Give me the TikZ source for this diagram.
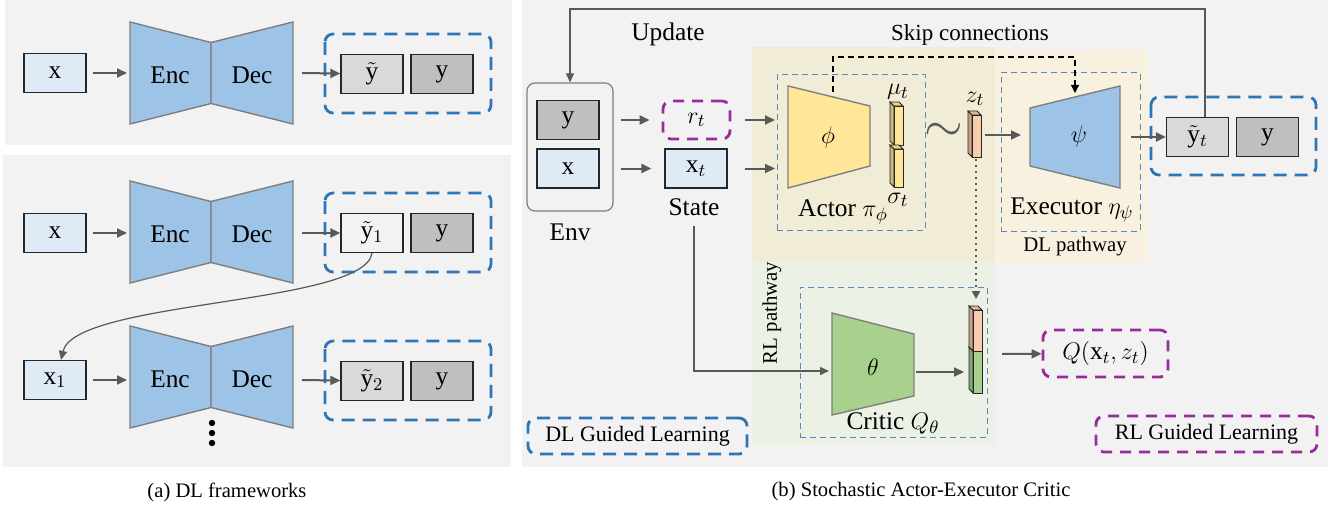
\documentclass[tikz,border=0pt]{standalone}
\usepackage{fontspec}
\setmainfont{Liberation Serif}
\setmathrm{Liberation Serif}
\usetikzlibrary{positioning,arrows.meta}

\definecolor{panel}{HTML}{F2F2F2}
\definecolor{actorbg}{HTML}{F1ECD6}
\definecolor{execbg}{HTML}{F9F1DF}
\definecolor{criticbg}{HTML}{EBF1E5}
\definecolor{inblue}{HTML}{DEEBF7}
\definecolor{encblue}{HTML}{9DC3E6}
\definecolor{actoryellow}{HTML}{FFE699}
\definecolor{critgreen}{HTML}{A9D18E}
\definecolor{zsalmon}{HTML}{F8CBAD}
\definecolor{gtgray}{HTML}{BFBFBF}
\definecolor{predgray}{HTML}{D9D9D9}
\definecolor{dlblue}{HTML}{2E75B6}
\definecolor{netblue}{HTML}{5A8AC0}
\definecolor{rlpurple}{HTML}{982C9A}
\definecolor{arrowgray}{HTML}{595959}
\definecolor{edgegray}{HTML}{7F7F7F}

\tikzset{
  lbl/.style={font=\rmfamily\fontsize{12.7}{14}\selectfont, inner sep=0pt},
  smalllbl/.style={font=\rmfamily\fontsize{10.4}{12}\selectfont, inner sep=0pt},
  inbox/.style={lbl, draw=black!85, line width=0.6pt, fill=inblue, minimum width=31pt, minimum height=19.5pt},
  gtbox/.style={inbox, fill=gtgray},
  predbox/.style={inbox, fill=predgray},
  dlgroup/.style={draw=dlblue, line width=1.4pt, dash pattern=on 6.5pt off 4pt, rounded corners=4pt},
  rlgroup/.style={draw=rlpurple, line width=1.4pt, dash pattern=on 5.5pt off 4pt, rounded corners=4pt},
  netbox/.style={draw=netblue, line width=0.5pt, dash pattern=on 3pt off 2pt},
  encnet/.style={fill=encblue, draw=edgegray, line width=0.7pt},
  flow/.style={draw=arrowgray, line width=1pt, -{Triangle[length=5pt,width=4.5pt]}},
  thinflow/.style={draw=arrowgray, line width=0.7pt, -{Triangle[length=4.5pt,width=4pt]}},
}

\newcommand{\featbar}[4]{%
  \filldraw[fill=#4!80!black, draw=black!85, line width=0.4pt] (#1-4,#2-4) -- (#1,#2) -- (#1,#3) -- (#1-4,#3-4) -- cycle;
  \filldraw[fill=#4!90!black, draw=black!85, line width=0.4pt] (#1-4,#2-4) -- (#1+5,#2-4) -- (#1+9,#2) -- (#1,#2) -- cycle;
  \filldraw[fill=#4, draw=black!85, line width=0.4pt] (#1,#2) rectangle (#1+9,#3);
}

\begin{document}
\begin{tikzpicture}[x=0.5pt,y=-0.5pt]
\useasboundingbox (0,0) rectangle (1338,508);

% panel backgrounds
\fill[panel] (5,0) rectangle (512,145);
\fill[panel] (3,155) rectangle (511,467);
\fill[panel] (522,0) rectangle (1328,467);
\fill[actorbg] (752,47) rectangle (995,262);
\fill[execbg] (995,50) rectangle (1148,262);
\fill[criticbg] (752,262) rectangle (995,445);

% (a) encoder-decoder rows
\foreach \n/\yc in {a/73, b/232, c/377} {
  \filldraw[encnet] (130,\yc-51) -- (211,\yc-30.5) -- (211,\yc+30.5) -- (130,\yc+51) -- cycle;
  \filldraw[encnet] (211,\yc-30.5) -- (293,\yc-51) -- (293,\yc+51) -- (211,\yc+30.5) -- cycle;
  \node[lbl] (enc-\n) at (170,\yc+2) {Enc};
  \node[lbl] (dec-\n) at (252,\yc+2) {Dec};
}
\node[inbox] (x-a) at (55,73) {x};
\node[predbox] (yh-a) at (372,74) {$\tilde{\mathrm{y}}$};
\node[gtbox] (y-a) at (442,74) {y};
\draw[dlgroup] (325,34) rectangle (491,113);

\node[inbox] (x-b) at (55,233) {x};
\node[predbox, fill=panel] (yh-b) at (372,233) {$\tilde{\mathrm{y}}_1$};
\node[gtbox] (y-b) at (442,233) {y};
\draw[dlgroup] (325,193) rectangle (491,272);

\node[inbox] (x-c) at (55,380) {$\mathrm{x}_1$};
\node[predbox] (yh-c) at (372,381) {$\tilde{\mathrm{y}}_2$};
\node[gtbox] (y-c) at (442,381) {y};
\draw[dlgroup] (325,341) rectangle (491,420);

\foreach \n/\yr in {a/73, b/233, c/380} {
  \coordinate (in-\n) at (127,\yr);
  \coordinate (out-\n) at (302,\yr);
  \draw[flow, shorten <=3pt] (x-\n) -- (in-\n);
  \draw[flow] (out-\n) -- (yh-\n);
}
\draw[thinflow, line width=0.6pt] (yh-b.south) .. controls (365,305) and (75,300) .. ([xshift=3pt]x-c.north);
\foreach \dy in {423,433,443}
  \fill (212,\dy) circle (1.6pt);

% (b) environment and state
\node[draw=edgegray, line width=0.6pt, rounded corners=4pt, minimum width=43pt, minimum height=64pt] (env) at (570,147) {};
\node[gtbox] (env-y) at (568,120) {y};
\node[inbox] (env-x) at (568,168.5) {x};
\node[lbl] (envlbl) at (570,232) {Env};
\node[lbl, draw=rlpurple, line width=1.4pt, dash pattern=on 5.5pt off 4pt, rounded corners=4pt, minimum width=33.5pt, minimum height=19pt] (rt) at (696.5,120) {$r_t$};
\node[inbox] (xt) at (696,168.5) {$\mathrm{x}_t$};
\node[lbl] (state) at (694,207) {State};
\draw[flow, shorten <=10.5pt, shorten >=6pt] (env-y) -- (rt);
\draw[flow, shorten <=10.5pt, shorten >=6.5pt] (env-x) -- (xt);
\node[lbl] (update) at (668,34) {Update};

% actor
\node[netbox, minimum width=74pt, minimum height=77.5pt] (actor) at (851,152.5) {};
\coordinate (act-r) at (775,120);
\coordinate (act-x) at (775,168.5);
\draw[flow, shorten <=7pt] (rt) -- (act-r);
\draw[flow, shorten <=8.5pt] (xt) -- (act-x);
\filldraw[fill=actoryellow, draw=edgegray, line width=0.7pt] (788,86) -- (870,106) -- (870,166) -- (788,188) -- cycle;
\node[lbl] (phi) at (828,137) {$\phi$};
\featbar{894}{106}{145}{actoryellow}
\featbar{894}{149}{187}{actoryellow}
\node[lbl] (mu) at (898,92) {$\mu_t$};
\node[lbl] (sigma) at (898,200) {$\sigma_t$};
\node[lbl] (actorlbl) at (843,212) {Actor $\pi_\phi$};
\node[text=arrowgray, inner sep=0pt] (tilde) at (944,132) {\fontsize{30}{30}\selectfont$\sim$};
\featbar{972}{115}{157}{zsalmon}
\node[lbl] (zt) at (975,99) {$z_t$};

% executor
\node[netbox, minimum width=69.5pt, minimum height=79pt] (exec) at (1070.5,152) {};
\filldraw[encnet] (1030,108) -- (1120,86) -- (1120,188) -- (1030,166) -- cycle;
\node[lbl] (psi) at (1079,136) {$\psi$};
\node[lbl] (execlbl) at (1072,210) {Executor $\eta_\psi$};
\node[smalllbl] (dlpath) at (1075,247) {DL pathway};
\coordinate (z-out) at (985,135);
\coordinate (psi-in) at (1021,135);
\draw[flow] (z-out) -- (psi-in);
\node[predbox] (yt) at (1197.5,137) {$\tilde{\mathrm{y}}_t$};
\node[gtbox] (y-t) at (1267.5,137) {y};
\draw[dlgroup] (1151,97) rectangle (1316,175);
\coordinate (psi-out) at (1131,137);
\draw[flow] (psi-out) -- (yt);

% update loop and skip connections
\coordinate (upd) at (1205,9);
\draw[thinflow] (yt.north -| upd) -- (upd) -| (env.north);
\coordinate (phi-top) at (833,92);
\coordinate (skip) at (1075,57);
\coordinate (psi-top) at (1075,93);
\draw[black, line width=0.6pt, dash pattern=on 3pt off 2pt, -{Triangle[length=4pt,width=4pt]}] (phi-top) |- (skip) -- (psi-top);
\node[font=\rmfamily\fontsize{11.5}{13}\selectfont, inner sep=0pt] (skiplbl) at (970,35) {Skip connections};

% critic
\node[netbox, minimum width=93.5pt, minimum height=75pt] (critic) at (893.5,362) {};
\filldraw[fill=critgreen, draw=edgegray, line width=0.7pt] (832,313) -- (914,334) -- (914,396) -- (832,415) -- cycle;
\node[lbl] (theta) at (873,367) {$\theta$};
\node[lbl] (criticlbl) at (893,423) {Critic $Q_\theta$};
\featbar{973}{351}{393}{critgreen}
\featbar{973}{310}{351}{zsalmon}
\coordinate (z-bot) at (976,159);
\coordinate (crit-top) at (976,299);
\draw[arrowgray, line width=1pt, dotted, -{Triangle[length=4pt,width=4pt]}] (z-bot) -- (crit-top);
\coordinate (theta-out) at (916,372);
\coordinate (cbar-in) at (964,372);
\draw[flow] (theta-out) -- (cbar-in);
\coordinate (theta-in) at (829,371);
\draw[thinflow] ([yshift=-5pt]state.south) |- (theta-in);
\node[smalllbl, rotate=90] (rlpath) at (772,313) {RL pathway};
\node[lbl, draw=rlpurple, line width=1.4pt, dash pattern=on 5.5pt off 4pt, rounded corners=4pt, minimum width=62.5pt, minimum height=23.5pt] (q) at (1105.5,353.5) {$Q(\mathrm{x}_t,z_t)$};
\coordinate (cbar-out) at (1002,354);
\draw[flow] (cbar-out) -- (q);

% legends and captions
\node[font=\rmfamily\fontsize{11}{13}\selectfont, draw=dlblue, line width=1.4pt, dash pattern=on 6.5pt off 4pt, rounded corners=4pt, minimum width=109.5pt, minimum height=18pt, inner sep=0pt] (dlguide) at (637.5,436) {DL Guided Learning};
\node[font=\rmfamily\fontsize{11}{13}\selectfont, draw=rlpurple, line width=1.4pt, dash pattern=on 5.5pt off 4pt, rounded corners=4pt, minimum width=110.5pt, minimum height=18pt, inner sep=0pt] (rlguide) at (1206.5,434) {RL Guided Learning};
\node[font=\rmfamily\fontsize{10.3}{12}\selectfont] (capa) at (227,492) {(a) DL frameworks};
\node[font=\rmfamily\fontsize{10.3}{12}\selectfont] (capb) at (921,492) {(b) Stochastic Actor-Executor Critic};
\end{tikzpicture}
\end{document}
